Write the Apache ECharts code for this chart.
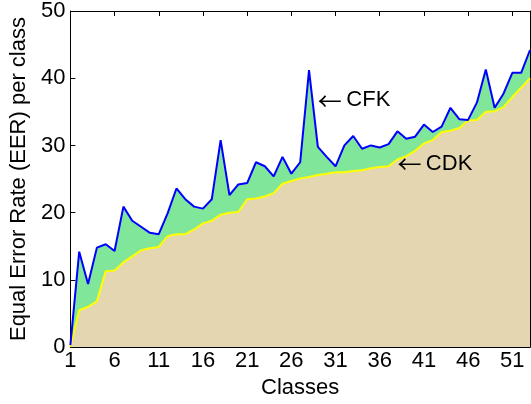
<!DOCTYPE html>
<html>
<head>
<meta charset="utf-8">
<script src="https://cdn.jsdelivr.net/npm/echarts@6/dist/echarts.min.js"></script>
<style>
html,body{margin:0;padding:0;background:#fff;}
#chart{width:531px;height:404px;}
</style>
</head>
<body>
<div id="chart"></div>
<script>
var classes = [];
for (var i = 1; i <= 53; i++) classes.push(String(i));

var cfk = [0.3, 14.2, 9.4, 14.8, 15.3, 14.3, 20.9, 18.8, 17.9, 17.0,
  16.8, 19.9, 23.6, 22.0, 20.9, 20.6, 22.0, 30.8, 22.6, 24.2,
  24.4, 27.5, 26.9, 25.4, 28.3, 25.8, 27.5, 41.2, 29.8, 28.3,
  26.9, 30.0, 31.4, 29.5, 30.0, 29.7, 30.2, 32.1, 31.0, 31.3,
  33.1, 32.0, 32.8, 35.6, 33.9, 33.8, 36.4, 41.3, 35.6, 37.7,
  40.8, 40.8, 44.2];

var cdk = [0.0, 5.5, 6.0, 6.8, 11.3, 11.4, 12.6, 13.5, 14.4, 14.7,
  14.9, 16.5, 16.8, 16.8, 17.5, 18.4, 18.8, 19.7, 20.0, 20.1,
  22.0, 22.1, 22.4, 22.9, 24.3, 24.7, 25.1, 25.3, 25.6, 25.8,
  26.0, 26.0, 26.2, 26.3, 26.6, 26.8, 26.9, 27.9, 28.4, 29.2,
  30.3, 30.8, 32.0, 32.2, 32.6, 33.7, 33.8, 35.0, 35.1, 35.7,
  37.2, 38.6, 40.0];

var yTicks = [0, 10, 20, 30, 40, 50];

var annotations = [
  { label: 'CFK', cls: 28.8, value: 36.7 },
  { label: 'CDK', cls: 38.2, value: 27.3 }
];

var FONT = '"Liberation Sans", Arial, Helvetica, sans-serif';
var FS = 22;

var chart = echarts.init(document.getElementById('chart'), null, { renderer: 'canvas' });

var baseX = {
  type: 'category',
  data: classes,
  boundaryGap: false,
  axisLine: { show: true, onZero: false, lineStyle: { color: '#000', width: 1 } },
  axisTick: { show: true, inside: true, interval: 4, length: 5, lineStyle: { color: '#000' } },
  splitLine: { show: false }
};
var baseY = {
  type: 'value',
  min: yTicks[0],
  max: yTicks[yTicks.length - 1],
  interval: 10,
  axisLine: { show: true, onZero: false, lineStyle: { color: '#000', width: 1 } },
  axisTick: { show: true, inside: true, length: 5, lineStyle: { color: '#000' } },
  splitLine: { show: false }
};

var option = {
  animation: false,
  backgroundColor: '#fff',
  grid: { left: 69, right: 1, top: 5, bottom: 54, containLabel: false },
  xAxis: [
    Object.assign({}, baseX, {
      position: 'bottom',
      name: 'Classes',
      nameLocation: 'middle',
      nameGap: 23,
      nameTextStyle: { color: '#000', fontFamily: FONT, fontSize: FS },
      axisLabel: { show: true, interval: 4, color: '#000', fontFamily: FONT, fontSize: FS, margin: 3 }
    }),
    Object.assign({}, baseX, {
      position: 'top',
      axisLabel: { show: false }
    })
  ],
  yAxis: [
    Object.assign({}, baseY, {
      position: 'left',
      name: 'Equal Error Rate (EER) per class',
      nameLocation: 'middle',
      nameGap: 36,
      nameTextStyle: { color: '#000', fontFamily: FONT, fontSize: FS },
      axisLabel: { show: true, color: '#000', fontFamily: FONT, fontSize: FS, margin: 5 }
    }),
    Object.assign({}, baseY, {
      position: 'right',
      axisLabel: { show: false }
    })
  ],
  series: [
    {
      name: 'CFK area',
      type: 'line',
      data: cfk,
      showSymbol: false,
      lineStyle: { width: 0 },
      areaStyle: { color: '#7FE69A', opacity: 1 },
      z: 1
    },
    {
      name: 'CDK',
      type: 'line',
      data: cdk,
      showSymbol: false,
      lineStyle: { color: '#FFFF00', width: 2 },
      areaStyle: { color: '#E3D6B0', opacity: 1 },
      z: 2
    },
    {
      name: 'CFK',
      type: 'line',
      data: cfk,
      showSymbol: false,
      lineStyle: { color: '#0000FF', width: 2 },
      z: 3
    }
  ]
};
chart.setOption(option);

var graphics = annotations.map(function (a) {
  var p = chart.convertToPixel({ xAxisIndex: 0, yAxisIndex: 0 }, [a.cls - 1, a.value]);
  return {
    type: 'text',
    x: p[0],
    y: p[1],
    z: 100,
    style: {
      text: '{arr|\u2190}{sp| }{lab|' + a.label + '}',
      fill: '#000',
      textAlign: 'left',
      textVerticalAlign: 'middle',
      rich: {
        arr: { fontFamily: '"Noto Sans CJK SC", "DejaVu Sans", sans-serif', fontSize: 24, fill: '#000', color: '#000' },
        sp: { fontFamily: FONT, fontSize: 16 },
        lab: { fontFamily: FONT, fontSize: FS, fill: '#000', color: '#000' }
      }
    }
  };
});
chart.setOption({ graphic: graphics });
</script>
</body>
</html>
